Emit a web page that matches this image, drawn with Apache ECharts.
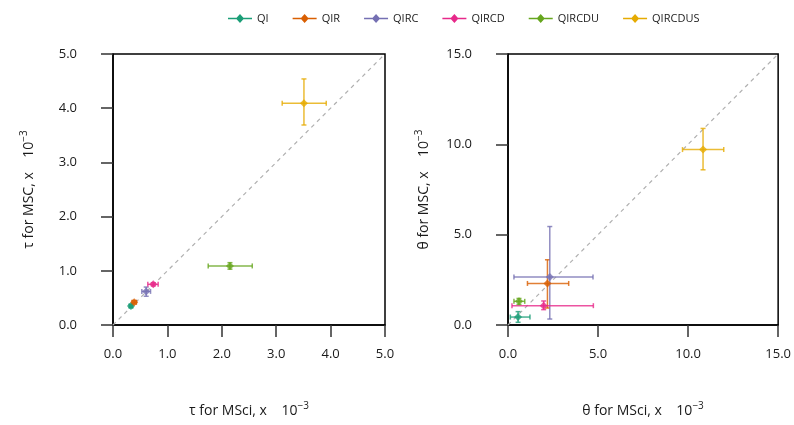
<!DOCTYPE html>
<html>
<head>
<meta charset="utf-8">
<script src="https://cdn.jsdelivr.net/npm/echarts@6/dist/echarts.min.js"></script>
<style>
  html, body { margin: 0; padding: 0; background: #fff; }
  #chart { width: 794px; height: 425px; }
</style>
</head>
<body>
<div id="chart"></div>
<script>
// Model variants
const groups = ['QI', 'QIR', 'QIRC', 'QIRCD', 'QIRCDU', 'QIRCDUS'];
const colors = ['#1B9E77', '#D95F02', '#7570B3', '#E7298A', '#66A61E', '#E6AB02'];

// tau (x 10^-3): MSci estimate vs MSC estimate, with interval bounds
const tauX   = [0.33, 0.39, 0.61, 0.74, 2.15, 3.51];
const tauXLo = [0.30, 0.35, 0.53, 0.64, 1.75, 3.11];
const tauXHi = [0.36, 0.43, 0.69, 0.83, 2.56, 3.92];
const tauY   = [0.35, 0.42, 0.62, 0.75, 1.09, 4.09];
const tauYLo = [0.32, 0.39, 0.53, 0.72, 1.03, 3.69];
const tauYHi = [0.38, 0.45, 0.70, 0.78, 1.15, 4.54];

// theta (x 10^-3): MSci estimate vs MSC estimate, with interval bounds
const thX   = [0.56, 2.19, 2.32, 1.98, 0.61, 10.83];
const thXLo = [0.13, 1.08, 0.33, 0.22, 0.33, 9.69];
const thXHi = [1.22, 3.37, 4.72, 4.74, 0.93, 11.98];
const thY   = [0.44, 2.30, 2.65, 1.07, 1.31, 9.71];
const thYLo = [0.15, 0.94, 0.33, 0.85, 1.14, 8.59];
const thYHi = [0.74, 3.61, 5.45, 1.33, 1.47, 10.88];

// Axis ranges and ticks
const tauMax = 5, tauStep = 1;
const thMax = 15, thStep = 5;

const FONT = '"Open Sans", "Noto Sans", sans-serif';
const legendIcon = 'path://M0,4.3H8.6L12,0.5L15.4,4.3H24V5.7H15.4L12,9.5L8.6,5.7H0Z';

function errorBars(params, api) {
  const x = api.value(0), y = api.value(1);
  const xl = api.coord([api.value(2), y]);
  const xh = api.coord([api.value(3), y]);
  const yl = api.coord([x, api.value(4)]);
  const yh = api.coord([x, api.value(5)]);
  const color = api.visual('color');
  const cap = 2.5;
  const st = { stroke: color, lineWidth: 1.5, opacity: 0.8 };
  const seg = (x1, y1, x2, y2) => ({ type: 'line', shape: { x1, y1, x2, y2 }, style: st });
  return {
    type: 'group',
    children: [
      seg(xl[0], xl[1], xh[0], xh[1]),
      seg(xl[0], xl[1] - cap, xl[0], xl[1] + cap),
      seg(xh[0], xh[1] - cap, xh[0], xh[1] + cap),
      seg(yl[0], yl[1], yh[0], yh[1]),
      seg(yl[0] - cap, yl[1], yl[0] + cap, yl[1]),
      seg(yh[0] - cap, yh[1], yh[0] + cap, yh[1])
    ]
  };
}

function axisName(sym, who) {
  return '{t|' + sym + ' for ' + who + ', x\u00a0\u00a0\u00a0 10}{sup|\u22123}';
}

function makeAxis(gridIndex, max, step, name, isY) {
  return {
    type: 'value',
    gridIndex,
    min: 0,
    max,
    interval: step,
    name,
    nameLocation: 'middle',
    nameGap: isY ? 74 : 76,
    nameRotate: isY ? 90 : 0,
    nameTextStyle: {
      color: '#1a1a1a',
      fontFamily: FONT,
      rich: {
        t: { fontSize: 14, fontFamily: FONT, color: '#1a1a1a', lineHeight: 20 },
        sup: { fontSize: 10, fontFamily: FONT, color: '#1a1a1a', verticalAlign: 'top', lineHeight: 20, padding: [0, 0, 6, 0] }
      }
    },
    axisLine: { show: true, onZero: false, lineStyle: { color: '#000', width: 1.5 } },
    axisTick: { show: true, inside: false, length: 12, lineStyle: { color: '#333', width: 1.5 } },
    axisLabel: {
      margin: isY ? 36 : 23,
      fontSize: 13,
      fontFamily: FONT,
      color: '#1a1a1a',
      formatter: v => v.toFixed(1)
    },
    splitLine: { show: false }
  };
}

const series = [];
// Reference diagonals (y = x)
[[0, tauMax], [1, thMax]].forEach(([g, m]) => {
  series.push({
    type: 'line',
    xAxisIndex: g,
    yAxisIndex: g,
    data: [[0, 0], [m, m]],
    symbol: 'none',
    silent: true,
    lineStyle: { color: '#b0b0b0', width: 1.2, type: [4, 4] },
    z: 1
  });
});

function addPanel(g, X, XLo, XHi, Y, YLo, YHi) {
  groups.forEach((name, i) => {
    series.push({
      type: 'custom',
      name,
      xAxisIndex: g,
      yAxisIndex: g,
      renderItem: errorBars,
      itemStyle: { color: colors[i] },
      encode: { x: [0, 2, 3], y: [1, 4, 5] },
      data: [[X[i], Y[i], XLo[i], XHi[i], YLo[i], YHi[i]]],
      z: 2
    });
    series.push({
      type: 'scatter',
      name,
      xAxisIndex: g,
      yAxisIndex: g,
      symbol: 'diamond',
      symbolSize: 8,
      itemStyle: { color: colors[i] },
      data: [[X[i], Y[i]]],
      z: 3
    });
  });
}
addPanel(0, tauX, tauXLo, tauXHi, tauY, tauYLo, tauYHi);
addPanel(1, thX, thXLo, thXHi, thY, thYLo, thYHi);

const option = {
  animation: false,
  backgroundColor: '#fff',
  legend: {
    top: 8,
    left: 223,
    itemWidth: 24,
    itemHeight: 10,
    itemGap: 24,
    textStyle: { fontSize: 11, fontFamily: FONT, color: '#222' },
    data: groups.map((name, i) => ({ name, icon: legendIcon, itemStyle: { color: colors[i] } }))
  },
  grid: [
    { left: 113, top: 54, width: 272, height: 271, show: true, borderColor: '#000', borderWidth: 1.5, backgroundColor: 'transparent' },
    { left: 508, top: 54, width: 271, height: 271, show: true, borderColor: '#000', borderWidth: 1.5, backgroundColor: 'transparent' }
  ],
  xAxis: [
    makeAxis(0, tauMax, tauStep, axisName('\u03c4', 'MSci'), false),
    makeAxis(1, thMax, thStep, axisName('\u03b8', 'MSci'), false)
  ],
  yAxis: [
    makeAxis(0, tauMax, tauStep, axisName('\u03c4', 'MSC'), true),
    makeAxis(1, thMax, thStep, axisName('\u03b8', 'MSC'), true)
  ],
  series
};

const chart = echarts.init(document.getElementById('chart'), null, { renderer: 'canvas' });
chart.setOption(option);
</script>
</body>
</html>
